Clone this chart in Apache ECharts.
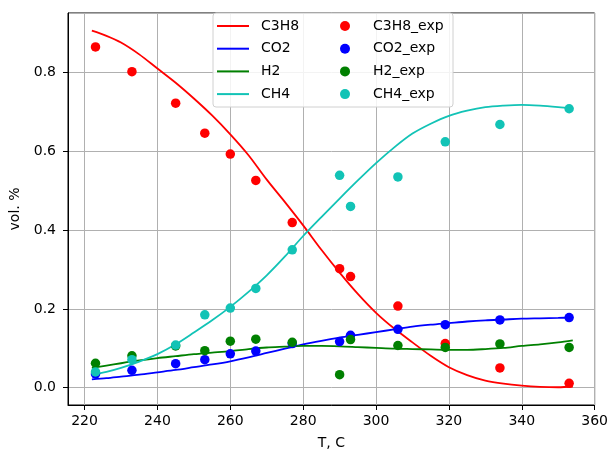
<!DOCTYPE html>
<html>
<head>
<meta charset="utf-8">
<script src="https://cdn.jsdelivr.net/npm/echarts@6/dist/echarts.min.js"></script>
<style>
html,body{margin:0;padding:0;background:#fff;overflow:hidden;width:611px;height:455px;}
#chart{width:611px;height:455px;position:absolute;left:0;top:0;}
</style>
</head>
<body>
<div id="chart"></div>
<script>
var expT = [223, 233, 245, 253, 260, 267, 277, 290, 293, 306, 319, 334, 353];
var C3H8_exp = [0.865, 0.802, 0.722, 0.646, 0.593, 0.526, 0.419, 0.302, 0.282, 0.207, 0.112, 0.050, 0.011];
var CO2_exp  = [0.035, 0.044, 0.061, 0.071, 0.086, 0.093, 0.112, 0.117, 0.133, 0.148, 0.160, 0.172, 0.178];
var H2_exp   = [0.062, 0.081, 0.106, 0.094, 0.118, 0.123, 0.115, 0.033, 0.122, 0.107, 0.102, 0.111, 0.102];
var CH4_exp  = [0.040, 0.071, 0.108, 0.185, 0.202, 0.252, 0.350, 0.539, 0.460, 0.535, 0.624, 0.668, 0.708];

var curveT = [222, 226, 230, 235, 240, 245, 250, 255, 260, 265, 270, 275, 280, 285, 290, 295, 300, 305, 310, 315, 320, 325, 330, 335, 340, 345, 350, 354];
var C3H8 = [0.906, 0.893, 0.876, 0.846, 0.810, 0.774, 0.734, 0.691, 0.643, 0.590, 0.528, 0.471, 0.412, 0.350, 0.292, 0.238, 0.190, 0.150, 0.115, 0.081, 0.052, 0.032, 0.018, 0.010, 0.005, 0.002, 0.001, 0.003];
var CO2  = [0.021, 0.024, 0.028, 0.033, 0.039, 0.045, 0.052, 0.059, 0.067, 0.077, 0.088, 0.099, 0.110, 0.119, 0.127, 0.134, 0.141, 0.148, 0.155, 0.160, 0.164, 0.168, 0.171, 0.173, 0.175, 0.176, 0.177, 0.178];
var H2   = [0.050, 0.056, 0.062, 0.069, 0.075, 0.080, 0.085, 0.089, 0.093, 0.098, 0.102, 0.104, 0.106, 0.106, 0.105, 0.103, 0.101, 0.099, 0.098, 0.097, 0.096, 0.096, 0.098, 0.101, 0.106, 0.110, 0.115, 0.120];
var CH4  = [0.033, 0.040, 0.050, 0.066, 0.085, 0.110, 0.140, 0.171, 0.205, 0.243, 0.285, 0.333, 0.385, 0.433, 0.480, 0.526, 0.570, 0.610, 0.645, 0.670, 0.690, 0.703, 0.712, 0.716, 0.718, 0.716, 0.712, 0.708];

var colors = {C3H8: '#ff0000', CO2: '#0000ff', H2: '#008000', CH4: '#12c3b6'};
var FONT = 'DejaVu Sans';

function pairs(xs, ys) { return xs.map(function (x, i) { return [x, ys[i]]; }); }

function lineSeries(name, ys) {
  return {
    name: name, type: 'line', data: pairs(curveT, ys), smooth: 0.3,
    showSymbol: false, symbol: 'none', z: 3,
    lineStyle: {color: colors[name], width: 1.8},
    itemStyle: {color: colors[name]}
  };
}
function scatterSeries(name, key, ys) {
  return {
    name: name, type: 'scatter', data: pairs(expT, ys), symbolSize: 9.5, z: 4,
    itemStyle: {color: colors[key], opacity: 1}
  };
}

var chart = echarts.init(document.getElementById('chart'), null, {renderer: 'canvas', width: 611, height: 455});
chart.setOption({
  animation: false,
  backgroundColor: '#ffffff',
  textStyle: {fontFamily: FONT},
  grid: {left: 67, right: 11, top: 13, bottom: 44, show: true, borderColor: '#000', borderWidth: 1, containLabel: false},
  xAxis: {
    type: 'value', min: 215.45, max: 360, splitNumber: 7,
    name: 'T, C', nameLocation: 'middle', nameGap: 31,
    nameTextStyle: {color: '#000', fontSize: 14, fontFamily: FONT},
    axisLine: {show: true, onZero: false, lineStyle: {color: '#000', width: 1}},
    axisTick: {show: true, inside: false, length: 5, lineStyle: {color: '#000'}},
    axisLabel: {color: '#000', fontSize: 14, fontFamily: FONT, margin: 9, showMinLabel: false, showMaxLabel: true,
      formatter: function (v) { return (Math.abs(v - Math.round(v)) < 1e-6 && Math.round(v) % 20 === 0) ? String(Math.round(v)) : ''; }},
    splitLine: {show: true, lineStyle: {color: '#b0b0b0', width: 1}}
  },
  yAxis: {
    type: 'value', min: -0.044, max: 0.951, splitNumber: 5,
    name: 'vol. %', nameLocation: 'middle', nameGap: 46, nameRotate: 90,
    nameTextStyle: {color: '#000', fontSize: 14, fontFamily: FONT},
    axisLine: {show: true, onZero: false, lineStyle: {color: '#000', width: 1}},
    axisTick: {show: true, inside: false, length: 5, lineStyle: {color: '#000'}},
    axisLabel: {color: '#000', fontSize: 14, fontFamily: FONT, margin: 12, showMinLabel: false, showMaxLabel: false,
      formatter: function (v) { return v.toFixed(1); }},
    splitLine: {show: true, lineStyle: {color: '#b0b0b0', width: 1}}
  },
  graphic: [{
    type: 'rect', z: 50, silent: true,
    shape: {x: 213, y: 13, width: 240, height: 94, r: 3},
    style: {fill: 'rgba(255,255,255,0.85)', stroke: '#d0d0d0', lineWidth: 1}
  }],
  legend: [{
    orient: 'vertical', left: 217, top: 19, padding: 0, itemGap: 8.7, z: 60,
    itemWidth: 32, itemHeight: 2, icon: 'rect',
    textStyle: {color: '#000', fontSize: 14, fontFamily: FONT, padding: [0, 0, 0, 7]},
    data: ['C3H8', 'CO2', 'H2', 'CH4']
  }, {
    orient: 'vertical', left: 340, top: 19, padding: 0, itemGap: 8.7, z: 60,
    itemWidth: 10, itemHeight: 10, icon: 'circle',
    textStyle: {color: '#000', fontSize: 14, fontFamily: FONT, padding: [0, 0, 0, 18]},
    data: ['C3H8_exp', 'CO2_exp', 'H2_exp', 'CH4_exp']
  }],
  series: [
    lineSeries('C3H8', C3H8),
    lineSeries('CO2', CO2),
    lineSeries('H2', H2),
    lineSeries('CH4', CH4),
    scatterSeries('C3H8_exp', 'C3H8', C3H8_exp),
    scatterSeries('CO2_exp', 'CO2', CO2_exp),
    scatterSeries('H2_exp', 'H2', H2_exp),
    scatterSeries('CH4_exp', 'CH4', CH4_exp)
  ]
});
</script>
</body>
</html>
